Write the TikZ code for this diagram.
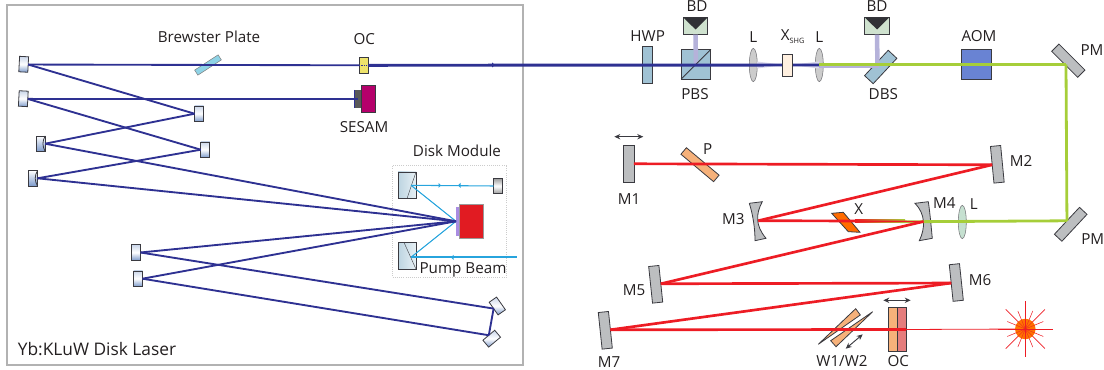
\documentclass[tikz,border=0pt]{standalone}
\usepackage{fontspec}
\setmainfont{Open Sans}
\usetikzlibrary{arrows.meta,shapes.geometric}
\definecolor{bluebeam}{HTML}{2E3192}
\definecolor{pumpbeam}{HTML}{27A4DD}
\definecolor{redbeam}{HTML}{ED1C24}
\definecolor{greenbeam}{HTML}{A6CE39}
\definecolor{palebeam}{HTML}{B5B2DA}
\definecolor{mirrgray}{HTML}{BCBEC0}
\definecolor{optblue}{HTML}{A0C2D4}
\definecolor{steel}{HTML}{7C9ACB}
\definecolor{wedgeorange}{HTML}{F6B17A}
\definecolor{edgedark}{HTML}{3A3A40}
\definecolor{txt}{HTML}{231F20}
\definecolor{bpcyan}{HTML}{8ED3E6}
\definecolor{sesamred}{HTML}{B5006B}
\definecolor{ocyellow}{HTML}{EEE36B}
\definecolor{lensgreen}{HTML}{C5E0D0}
\begin{document}
\begin{tikzpicture}
    [x=0.75pt,y=-0.75pt,
    lbl/.style = {font=\fontsize{11.4}{13}\selectfont, text=txt, inner sep=0pt},
    part/.style = {rectangle, draw=edgedark, line width=0.6pt, inner sep=0pt, outer sep=0pt},
    cavmirr/.style = {part, minimum width=6.75pt, minimum height=11.6pt, top color=steel!40, bottom color=steel, middle color=white},
    curvmirr/.style = {part, minimum width=6.75pt, minimum height=11.6pt, top color=white, bottom color=steel},
    flatmirr/.style = {part, fill=mirrgray, minimum width=7.7pt, minimum height=27.6pt},
    prism/.style = {part, minimum width=13.5pt, minimum height=20pt, left color=optblue!70, right color=optblue!25},
    dump/.style = {part, fill=green!25!gray!30, minimum width=18.3pt, minimum height=13pt},
    lens/.style = {ellipse, draw=edgedark!70, line width=0.4pt, inner sep=0pt, minimum width=6pt, minimum height=25pt},
    thinblue/.style = {draw=bluebeam, line width=1.4pt},
    thickblue/.style = {draw=bluebeam, line width=2.2pt},
    redray/.style = {draw=redbeam, line width=2pt},
    greenray/.style = {draw=greenbeam, line width=2.1pt},
    pumpray/.style = {draw=pumpbeam, line width=0.8pt},
    palebar/.style = {draw=palebeam, line width=3.4pt},
    shift2/.style = {draw=edgedark, line width=0.7pt, {Stealth[length=4.5pt,width=4pt]}-{Stealth[length=4.5pt,width=4pt]}}]
    \useasboundingbox (0,0) rectangle (1104,370);
    % Laser cavity
    \node[rectangle, draw=gray!60, line width=1.1pt, inner sep=0pt, minimum width=387pt, minimum height=270pt] (frame) at (265,185) {};
    \node[rectangle, draw=gray!40, densely dotted, line width=0.6pt, inner sep=0pt, minimum width=85.5pt, minimum height=84pt] (modbox) at (449.7,221) {};
    \node[cavmirr,rotate=-3] (m1) at (23.7,64.3) {};
    \node[cavmirr,rotate=-3] (m2) at (23.3,98.7) {};
    \node[cavmirr] (m3) at (199,113.7) {};
    \node[cavmirr] (m4) at (205.3,149.7) {};
    \node[curvmirr] (m5) at (40.7,143.7) {};
    \node[curvmirr] (m6) at (33,178.3) {};
    \node[cavmirr] (m7) at (136,252.5) {};
    \node[cavmirr] (m8) at (138,278.7) {};
    \node[cavmirr,rotate=35] (m9) at (497.3,306) {};
    \node[cavmirr,rotate=-50] (m10) at (491.7,338.7) {};
    \node[part, draw=gray, fill=bpcyan, line width=0.4pt, minimum width=4.5pt, minimum height=21pt, rotate=-57] (bp) at (208,65) {};
    % Disk module
    \node[prism] (pr1) at (407,185.3) {};
    \node[prism] (pr2) at (407,255.8) {};
    \node[part, draw=gray!80, fill=redbeam!95!black, minimum width=18.5pt, minimum height=26pt] (disk) at (471.4,221.3) {};
    \node[rectangle, fill=violet!50!blue!45, inner sep=0pt, minimum width=2pt, minimum height=21.8pt] (film) at (457.6,221.3) {};
    \coordinate (focus) at (film.west);
    \coordinate (pin1) at (411,185.3);
    \coordinate (pin2) at (411,257.3);
    \coordinate (pumpin) at (516.7,257.3);
    \node[part, minimum width=6.75pt, minimum height=11.6pt, top color=gray!80, bottom color=gray!80, middle color=white] (m11) at (498,186) {};
    \draw[edgedark, line width=0.3pt] (pr1.north east) -- (pr1.south)++(-3,0);
    \draw[edgedark, line width=0.3pt] (pr2.north)++(-3,0) -- (pr2.south east);
    \draw[pumpray] (pin1) -- (m11.west);
    \draw[pumpray] (pin1) -- (focus);
    \draw[pumpray] (pin2) -- (focus);
    \draw[pumpray, line width=1.2pt] (pumpin) -- (pin2);
    \fill[pumpbeam] (441,185.3) -- ++(-2.5,-2.5) -- ++(0,5) -- cycle;
    \fill[pumpbeam] (458,185.3) -- ++(2.5,-2.5) -- ++(0,5) -- cycle;
    \fill[pumpbeam] (451,257.3) -- ++(2.5,-2.5) -- ++(0,5) -- cycle;
    % Left beams
    \draw[thinblue] (m1.east) -- (m3.west);
    \draw[thinblue] (m3.west) -- (m5.east);
    \draw[thinblue] (m2.east) -- (m4.west);
    \draw[thinblue] (m4.west) -- (m6.east);
    \draw[thinblue] (m5.east) -- (focus);
    \draw[thinblue] (m6.east) -- (focus);
    \draw[thinblue] (m7.east) -- (focus);
    \draw[thinblue] (m8.east) -- (focus);
    \draw[thinblue] (m7.east) -- (m9.west);
    \draw[thinblue] (m8.east) -- (m10.west);
    \draw[thinblue] (m9.west) -- (m10.west);
    \draw[edgedark, line width=0.6pt] (m5.north east) to[bend right=30] (m5.south east);
    \draw[edgedark, line width=0.6pt] (m6.north east) to[bend right=30] (m6.south east);
    % SESAM
    \node[part, fill=gray!70!black, draw=none, minimum width=5.7pt, minimum height=13.5pt] (stack) at (357.8,99) {};
    \node[part, fill=sesamred, minimum width=10pt, minimum height=20.8pt] (sesam) at (368.3,98.8) {};
    \draw[thinblue] (m2.east) -- (stack.center);
    \draw[bluebeam, line width=0.5pt] (stack.north west) -- (stack.south west);
    % Output coupler and beam line
    \node[part, fill=ocyellow, minimum width=6.75pt, minimum height=12pt] (ocl) at (363.5,65.3) {};
    \draw[thinblue] (m1.east) -- (ocl.west);
    \node[part, fill=optblue, minimum width=7.8pt, minimum height=27.5pt] (hwp) at (647.5,65) {};
    \node[part, fill=optblue, minimum size=22.3pt] (pbs) at (696,64.2) {};
    \node[dump] (bd1) at (695.5,26) {};
    \node[dump] (bd2) at (877,26) {};
    \fill[edgedark!85!black] (bd1.north west) -- (bd1.north east) -- (695.5,29.5) -- cycle;
    \fill[edgedark!85!black] (bd2.north west) -- (bd2.north east) -- (877,29.5) -- cycle;
    \node[lens, fill=gray!40] (l1) at (753.3,65) {};
    \node[lens, fill=gray!40] (l2) at (819.3,65) {};
    \coordinate (dbsc) at (877.5,65.5);
    \fill[palebeam!50] (757,61.5) -- (777,64) -- (777,66) -- (757,68.5) -- cycle;
    \fill[palebeam!50] (798,64) -- (819,61.5) -- (819,68.5) -- (798,66) -- cycle;
    \node[part, fill=optblue, minimum width=8.85pt, minimum height=26pt, rotate=-43] (dbs) at (880.7,67) {};
    \draw[palebar] (bd1.south) -- (pbs.center);
    \draw[edgedark, line width=0.6pt] (pbs.south west) -- (pbs.north east);
    \draw[palebar] (bd2.south) -- (dbsc);
    \draw[palebeam, line width=1.6pt] (l2.center)++(0,1.6) -- (879,66.6);
    \coordinate (pmin) at (1066,64.5);
    \node[part, fill=steel!85!blue, minimum size=22.4pt] (aom) at (976,64.3) {};
    \node[flatmirr, rotate=45] (pm1) at (1068.3,60.7) {};
    \node[flatmirr, rotate=-43] (pm2) at (1070.7,224.3) {};
    \draw[thickblue] (ocl.east) -- (l2.center);
    \fill[bluebeam] (495,65) -- ++(-3,-2.5) -- ++(0,5) -- cycle;
    \draw[greenray] (l2.center)++(0,-0.5) -- (pmin);
    \node[part, fill=orange!12, minimum width=7pt, minimum height=16.5pt] (xshg) at (787.3,65.3) {};
    \draw[bluebeam, densely dotted, line width=0.3pt] (ocl.west) -- (ocl.east);
    % Ti:Sa cavity
    \node[flatmirr] (M1) at (628.8,163.8) {};
    \node[flatmirr, rotate=5.5] (M2) at (997.3,164.3) {};
    \node[flatmirr, rotate=6] (M5) at (655.7,284.3) {};
    \node[flatmirr, rotate=6] (M6) at (956.3,282.5) {};
    \node[flatmirr, rotate=6] (M7) at (605.3,330.3) {};
    \coordinate (c3) at (758.3,220.7);
    \coordinate (c4) at (923.5,221.5);
    \coordinate (xout) at (855,221);
    \coordinate (greenin) at (900,221.8);
    \draw[part, fill=mirrgray] (749.3,203.3) -- (762.3,201.7) .. controls (755.5,214) and (755.5,226) .. (766,238.3) -- (755,240.7) .. controls (755,228) and (753,215) .. (749.3,203.3);
    \draw[part, fill=mirrgray] (915,203.3) .. controls (925.5,214) and (925.5,228) .. (919.3,240.7) -- (932.3,238.3) .. controls (931,225) and (930,213) .. (928.3,201.7) -- cycle;
    \node[lens, fill=lensgreen] (l3) at (962.3,222) {};
    \node[part, fill=wedgeorange, minimum width=6.4pt, minimum height=32pt, rotate=50] (pl) at (700,164.7) {};
    \draw[part, fill=orange!85!red] (831.7,213.3) -- (843.3,212.3) -- (860,232.3) -- (848.3,231.7) -- cycle;
    % Red and green beams
    \draw[greenray] (pmin) -- (pm2.west);
    \draw[greenray] (pm2.west) -- (greenin);
    \shade[left color=redbeam, right color=greenbeam] (xout)++(0,-1.2) rectangle (905,223);
    \draw[redray] (M1.east) -- (M2.west);
    \draw[redray] (M2.west) -- (c3);
    \draw[redray] (c3) -- (xout);
    \draw[redbeam, line width=1pt] (c3) -- (c4);
    \draw[redray] (c4) -- (M5.east);
    \draw[redray] (M5.east) -- (M6.west);
    \draw[redray] (M6.west) -- (M7.east);
    % Wedges
    \coordinate (wtipa) at (818.3,344.3);
    \coordinate (wtipb) at (872.7,311.7);
    \draw[part, fill=wedgeorange] (855.7,308.7) -- (860.3,315) -- (wtipa) -- cycle;
    \draw[part, fill=wedgeorange] (wtipb) -- (836,346.7) -- (830.7,340.7) -- cycle;
    \node[part, fill=wedgeorange, minimum width=6.5pt, minimum height=32.7pt] (oca) at (893.1,329.5) {};
    \node[part, fill=red!35!pink!80!gray, minimum width=6.5pt, minimum height=32.7pt] (ocb) at (901.8,329.5) {};
    \coordinate (starc) at (1025.3,329);
    \draw[redray] (M7.east) -- (ocb.east);
    \draw[redbeam, line width=0.6pt] (ocb.east) -- (starc);
    \foreach \a in {0,45,...,315}
        \draw[redbeam, line width=0.5pt] (starc) -- ++(\a:27.7);
    \foreach \a in {22.5,67.5,...,337.5}
        \draw[redbeam, line width=0.4pt] (starc) -- ++(\a:19.5);
    \node[circle, fill=orange!90!red, inner sep=0pt, minimum size=15.4pt] (star) at (starc) {};
    \foreach \a in {0,22.5,...,337.5}
        \draw[redbeam, line width=0.25pt] (star.center) -- ++(\a:10.2);
    % Translation arrows
    \coordinate (arra) at (614.3,136.7);
    \coordinate (arrb) at (643.3,136.7);
    \coordinate (arrc) at (883.3,300.3);
    \coordinate (arrd) at (910.7,300.3);
    \coordinate (arre) at (845.7,348.7);
    \coordinate (arrf) at (862.7,334.3);
    \draw[shift2] (arra) -- (arrb);
    \draw[shift2] (arrc) -- (arrd);
    \draw[shift2] (arre) -- (arrf);
    % Labels
    \node[lbl] (tbp) at (209,37) {Brewster Plate};
    \node[lbl] (tocl) at (364.3,39) {OC};
    \node[lbl] (tses) at (364,127) {SESAM};
    \node[lbl] (tmod) at (457,150.7) {Disk Module};
    \node[lbl] (tpump) at (463,270) {Pump Beam};
    \node[lbl, font=\fontsize{13}{15}\selectfont] (tlas) at (97,349.5) {Yb:KLuW Disk Laser};
    \node[lbl] (thwp) at (647.7,35.7) {HWP};
    \node[lbl] (tbd1) at (697,6) {BD};
    \node[lbl] (tbd2) at (877,6) {BD};
    \node[lbl] (tpbs) at (695,94.3) {PBS};
    \node[lbl] (tl1) at (753.3,37.3) {L};
    \node[lbl] (tl2) at (819.3,36.7) {L};
    \node[lbl] (txs) at (792.7,36.7) {X\raisebox{-2pt}{\fontsize{5.5}{6}\selectfont SHG}};
    \node[lbl] (tdbs) at (883.3,94.3) {DBS};
    \node[lbl] (taom) at (979,35.7) {AOM};
    \node[lbl] (tpm1) at (1092,50) {PM};
    \node[lbl] (tpm2) at (1092.7,239) {PM};
    \node[lbl] (tM1) at (629,198.7) {M1};
    \node[lbl] (tP) at (707.7,149.3) {P};
    \node[lbl] (tM2) at (1021,161.3) {M2};
    \node[lbl] (tM3) at (733.3,219.3) {M3};
    \node[lbl] (tX) at (858.7,209.3) {X};
    \node[lbl] (tM4) at (944.3,203.3) {M4};
    \node[lbl] (tl3) at (973.7,203.7) {L};
    \node[lbl] (tM5) at (634,290) {M5};
    \node[lbl] (tM6) at (980,280) {M6};
    \node[lbl] (tM7) at (609,361.7) {M7};
    \node[lbl] (tw) at (842,361) {W1/W2};
    \node[lbl] (toc) at (898.3,361) {OC};
\end{tikzpicture}
\end{document}
